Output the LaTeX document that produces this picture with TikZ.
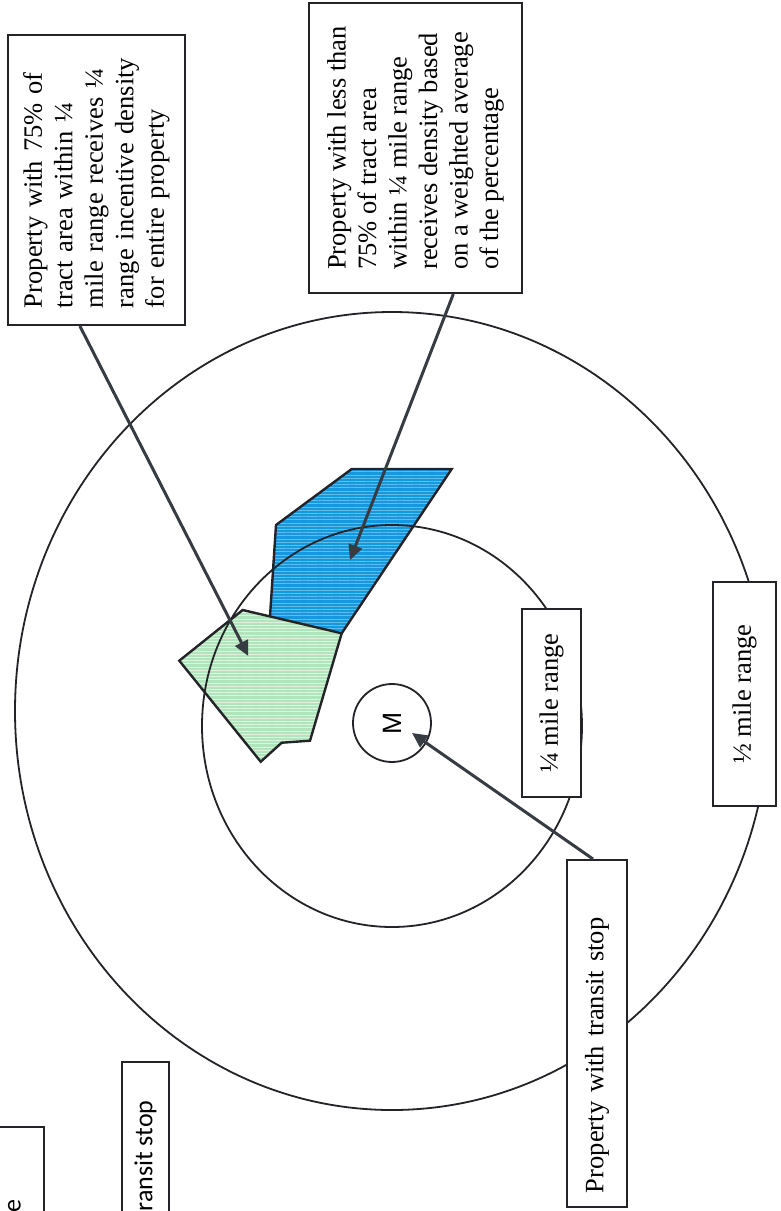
\documentclass[tikz,border=0pt]{standalone}
\usepackage{fontspec}
\setmainfont{Liberation Serif}
\newfontfamily\msans{Liberation Sans}
\newfontfamily\fragsans{Carlito}
\usetikzlibrary{arrows.meta,calc,patterns.meta}
\definecolor{linec}{RGB}{35,35,40}
\definecolor{arrowc}{RGB}{55,60,66}
\definecolor{greenfill}{RGB}{176,228,186}
\definecolor{greenline}{RGB}{222,245,226}
\definecolor{bluefill}{RGB}{22,152,222}
\definecolor{blueline}{RGB}{95,190,238}
\tikzset{
  txtbox/.style={draw=linec, line width=1pt, fill=white, rotate=90, inner sep=0pt,
    font=\fontsize{13.25}{15.25}\selectfont},
  fragbox/.style={draw=linec, line width=1pt, fill=white, rotate=90, inner sep=0pt,
    font=\fragsans\fontsize{13}{15}\selectfont},
  ring/.style={draw=linec, line width=0.9pt},
  parcel/.style={draw=linec, line width=1.2pt, line join=miter},
  pointer/.style={draw=arrowc, line width=1.5pt, -{Triangle[length=7.5pt,width=7pt]}},
}
\begin{document}
\begin{tikzpicture}[x=0.5pt,y=-0.5pt]
\useasboundingbox (0,0) rectangle (781,1211);
\clip (0,0) rectangle (781,1211);
\fill[white] (0,0) rectangle (781,1211);

% parcels
\fill[greenfill] (179.3,660.7) -- (242.7,610) -- (341.7,633.3) -- (310,740.7) -- (281.7,742.7) -- (260.7,761.7) -- cycle;
\fill[pattern={Lines[angle=0,distance=1.6pt,line width=0.45pt]}, pattern color=greenline]
  (179.3,660.7) -- (242.7,610) -- (341.7,633.3) -- (310,740.7) -- (281.7,742.7) -- (260.7,761.7) -- cycle;
\fill[bluefill] (270,616.4) -- (276,525) -- (351.7,469) -- (451.7,469) -- (341.7,633.3) -- cycle;
\fill[pattern={Lines[angle=0,distance=1.6pt,line width=0.45pt]}, pattern color=blueline]
  (270,616.4) -- (276,525) -- (351.7,469) -- (451.7,469) -- (341.7,633.3) -- cycle;
\draw[parcel] (179.3,660.7) -- (242.7,610) -- (341.7,633.3) -- (310,740.7) -- (281.7,742.7) -- (260.7,761.7) -- cycle;
\draw[parcel] (270,616.4) -- (276,525) -- (351.7,469) -- (451.7,469) -- (341.7,633.3);

% range rings
\draw[ring] (392,726) ellipse [x radius=190, y radius=201];
\draw[ring] (392,711) ellipse [x radius=377, y radius=399];

% transit stop
\node[draw=linec, line width=0.9pt, circle, minimum size=39pt, inner sep=0pt, rotate=90,
      font=\msans\fontsize{13.25}{15}\selectfont] (stop) at (392,723) {M};

% labels
\node[txtbox, minimum width=145pt, minimum height=88.5pt, text width=128pt, align=left] (boxA) at (96.5,180)
  {Property with 75\% of\\tract area within ¼\\mile range receives ¼\\range incentive density\\for entire property};
\node[txtbox, minimum width=145pt, minimum height=106.5pt, align=left] (boxB) at (415.5,148)
  {Property with less than\\75\% of tract area\\within ¼ mile range\\receives density based\\on a weighted average\\of the percentage};
\node[txtbox, minimum width=94pt, minimum height=29.5pt] (quarter) at (551.5,703) {¼ mile range};
\node[txtbox, minimum width=112pt, minimum height=31.5pt] (half) at (744.5,694) {½ mile range};
\node[txtbox, minimum width=173.5pt, minimum height=30pt, text width=159.5pt, align=left] (transit) at (597,1033.5)
  {Property with transit stop};

% cut-off fragments at the lower left
\node[fragbox, minimum width=79pt, minimum height=29.5pt] (frag1) at (14.5,1206) {e};
\node[fragbox, minimum width=94pt, minimum height=23.5pt] (frag2) at (145.5,1156) {ransit stop};

% pointers
\coordinate (greentip) at (248.3,656);
\coordinate (bluetip) at (350,560);
\coordinate (mtip) at (412,733);
\draw[pointer] ($(boxA.west)!0.186!(boxA.north west)$) -- (greentip);
\draw[pointer] ($(boxB.west)!0.352!(boxB.south west)$) -- (bluetip);
\draw[pointer] ($(transit.east)!0.13!(transit.north east)$) -- (mtip);
\end{tikzpicture}
\end{document}
